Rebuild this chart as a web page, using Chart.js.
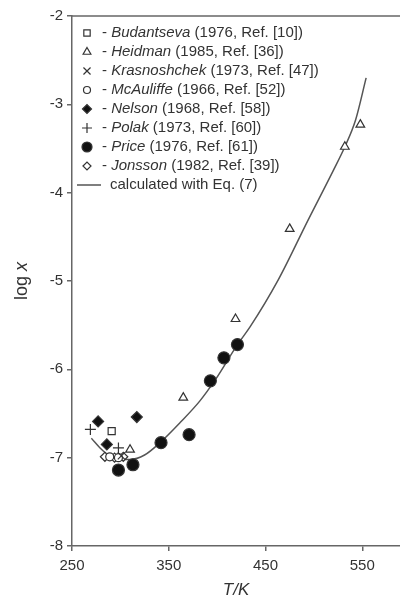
<!DOCTYPE html>
<html>
<head>
<meta charset="utf-8">
<script src="https://cdn.jsdelivr.net/npm/chart.js@4.4.0/dist/chart.umd.min.js"></script>
<style>
  html, body { margin: 0; padding: 0; background: #fff; }
  #wrap { width: 400px; height: 610px; position: relative; }
</style>
</head>
<body>
<div id="wrap"><canvas id="solubilityChart"></canvas></div>
<script>
// Data (T in K, log x)
const budantsevaT = [291];
const budantsevaLogX = [-6.70];
const heidmanT = [310, 365, 419, 475, 532, 548];
const heidmanLogX = [-6.91, -6.32, -5.43, -4.41, -3.48, -3.23];
const krasnoshchekT = [301];
const krasnoshchekLogX = [-6.98];
const mcauliffeT = [289, 298];
const mcauliffeLogX = [-6.99, -7.00];
const nelsonT = [277, 286, 317];
const nelsonLogX = [-6.59, -6.85, -6.54];
const polakT = [269, 298];
const polakLogX = [-6.68, -6.89];
const priceT = [298, 313, 342, 371, 393, 407, 421];
const priceLogX = [-7.14, -7.08, -6.83, -6.74, -6.13, -5.87, -5.72];
const jonssonT = [284, 294, 303];
const jonssonLogX = [-6.99, -7.00, -6.99];
const curveT = [270, 279, 289, 300, 310, 325, 341, 362, 382, 398, 421, 434, 463, 494, 520, 532, 543, 554];
const curveLogX = [-6.78, -6.89, -6.98, -7.02, -7.02, -6.97, -6.83, -6.60, -6.36, -6.12, -5.72, -5.52, -4.99, -4.31, -3.75, -3.48, -3.18, -2.70];
const xTickValues = [250, 350, 450, 550];

const legendRows = [
    { name: 'Budantseva', rest: ' (1976, Ref. [10])', style: 'rect', fill: false, r: 4.5 },
    { name: 'Heidman', rest: ' (1985, Ref. [36])', style: 'triangle', fill: false, r: 4.5 },
    { name: 'Krasnoshchek', rest: ' (1973, Ref. [47])', style: 'crossRot', fill: false, r: 5 },
    { name: 'McAuliffe', rest: ' (1966, Ref. [52])', style: 'circle', fill: false, r: 3.5 },
    { name: 'Nelson', rest: ' (1968, Ref. [58])', style: 'rectRot', fill: true, r: 4.5 },
    { name: 'Polak', rest: ' (1973, Ref. [60])', style: 'cross', fill: false, r: 5 },
    { name: 'Price', rest: ' (1976, Ref. [61])', style: 'circle', fill: true, r: 5 },
    { name: 'Jonsson', rest: ' (1982, Ref. [39])', style: 'rectRot', fill: false, r: 4 }
];

const INK = '#333';
const AXIS = '#666';
const FONT = '"Liberation Sans", Arial, sans-serif';

function pts(xs, ys) {
    return xs.map((x, i) => ({ x: x, y: ys[i] }));
}

function markerSet(label, xs, ys, style, filled, r) {
    return {
        label: label,
        data: pts(xs, ys),
        showLine: false,
        pointStyle: style,
        pointRadius: r,
        pointBorderWidth: 1.2,
        pointBorderColor: INK,
        pointBackgroundColor: filled ? '#111' : '#fff'
    };
}

// frame, titles and the hand-made legend
const decorations = {
    id: 'decorations',
    afterDraw(chart) {
        const ctx = chart.ctx;
        const area = chart.chartArea;
        ctx.save();

        // top frame line
        ctx.strokeStyle = AXIS;
        ctx.lineWidth = 1.5;
        ctx.beginPath();
        ctx.moveTo(area.left, area.top);
        ctx.lineTo(chart.width, area.top);
        ctx.stroke();

        // y title: "log x"
        ctx.fillStyle = INK;
        ctx.textBaseline = 'middle';
        ctx.save();
        ctx.translate(22, 281);
        ctx.rotate(-Math.PI / 2);
        ctx.font = '18px ' + FONT;
        const w1 = ctx.measureText('log ').width;
        ctx.font = 'italic 18px ' + FONT;
        const w2 = ctx.measureText('x').width;
        ctx.textAlign = 'left';
        ctx.font = '18px ' + FONT;
        ctx.fillText('log ', -(w1 + w2) / 2, 0);
        ctx.font = 'italic 18px ' + FONT;
        ctx.fillText('x', -(w1 + w2) / 2 + w1, 0);
        ctx.restore();

        // x title
        ctx.font = 'italic 17px ' + FONT;
        ctx.textAlign = 'center';
        ctx.fillText('T/K', 236, 590);

        // legend
        const symX = 87;
        let y = 33;
        ctx.textAlign = 'left';
        legendRows.forEach(row => {
            ctx.strokeStyle = INK;
            ctx.fillStyle = row.fill ? '#111' : '#fff';
            ctx.lineWidth = 1.2;
            Chart.helpers.drawPoint(ctx, { pointStyle: row.style, radius: row.r, borderWidth: 1.2 }, symX, y);
            ctx.fillStyle = INK;
            let x = 102;
            ctx.font = '15px ' + FONT;
            ctx.fillText('- ', x, y);
            x += ctx.measureText('- ').width;
            ctx.font = 'italic 15px ' + FONT;
            ctx.fillText(row.name, x, y);
            x += ctx.measureText(row.name).width;
            ctx.font = '15px ' + FONT;
            ctx.fillText(row.rest, x, y);
            y += 19;
        });
        ctx.strokeStyle = '#555';
        ctx.lineWidth = 1.5;
        ctx.beginPath();
        ctx.moveTo(77, y);
        ctx.lineTo(101, y);
        ctx.stroke();
        ctx.fillStyle = INK;
        ctx.font = '15px ' + FONT;
        ctx.fillText('calculated with Eq. (7)', 110, y);

        ctx.restore();
    }
};

document.addEventListener('DOMContentLoaded', function() {
    const ctx = document.getElementById('solubilityChart').getContext('2d');
    new Chart(ctx, {
        type: 'scatter',
        data: {
            datasets: [
                {
                    label: 'calculated with Eq. (7)',
                    data: pts(curveT, curveLogX),
                    showLine: true,
                    borderColor: '#555',
                    borderWidth: 1.5,
                    pointRadius: 0,
                    tension: 0.4,
                    cubicInterpolationMode: 'monotone',
                    order: 10
                },
                markerSet('Budantseva', budantsevaT, budantsevaLogX, 'rect', false, 5),
                markerSet('Heidman', heidmanT, heidmanLogX, 'triangle', false, 5),
                markerSet('Krasnoshchek', krasnoshchekT, krasnoshchekLogX, 'crossRot', false, 5),
                markerSet('McAuliffe', mcauliffeT, mcauliffeLogX, 'circle', false, 4),
                markerSet('Nelson', nelsonT, nelsonLogX, 'rectRot', true, 5.5),
                markerSet('Polak', polakT, polakLogX, 'cross', false, 5.5),
                markerSet('Price', priceT, priceLogX, 'circle', true, 6),
                markerSet('Jonsson', jonssonT, jonssonLogX, 'rectRot', false, 4.5)
            ]
        },
        options: {
            responsive: true,
            maintainAspectRatio: false,
            animation: false,
            layout: { autoPadding: false, padding: { top: 16, right: 0, left: 0, bottom: 0 } },
            plugins: {
                legend: { display: false },
                tooltip: { enabled: false }
            },
            scales: {
                x: {
                    type: 'linear',
                    min: 250,
                    max: 589,
                    afterBuildTicks: axis => {
                        axis.ticks = xTickValues.map(v => ({ value: v }));
                    },
                    afterFit: axis => {
                        axis.height = 64;
                        axis.paddingRight = 0;
                    },
                    grid: { drawOnChartArea: false, drawTicks: true, tickLength: 5, color: AXIS, lineWidth: 1.5 },
                    border: { color: AXIS, width: 1.5 },
                    ticks: { color: INK, font: { family: FONT, size: 15 }, padding: 6, maxRotation: 0 }
                },
                y: {
                    min: -8,
                    max: -2,
                    afterFit: axis => { axis.width = 72; },
                    grid: { drawOnChartArea: false, drawTicks: true, tickLength: 5, color: AXIS, lineWidth: 1.5 },
                    border: { color: AXIS, width: 1.5 },
                    ticks: { stepSize: 1, color: INK, font: { family: FONT, size: 15 }, padding: 4 }
                }
            }
        },
        plugins: [decorations]
    });
});
</script>
</body>
</html>
